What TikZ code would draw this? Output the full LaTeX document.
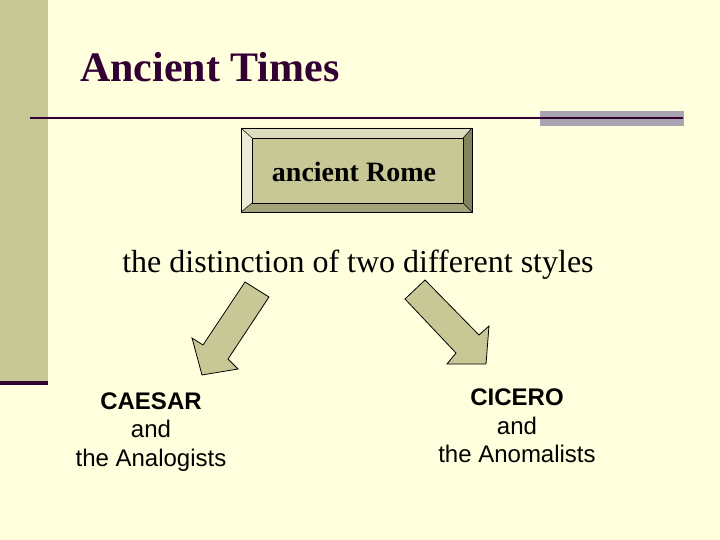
\documentclass[tikz,border=0pt]{standalone}
\usepackage{fontspec}
\setmainfont{Liberation Serif}
\newfontfamily\arialfont{Liberation Sans}
\definecolor{bgc}{HTML}{FFFFDD}
\definecolor{barc}{HTML}{C8C896}
\definecolor{darkp}{HTML}{330033}
\definecolor{greybar}{HTML}{A9A2B0}
\definecolor{face}{HTML}{C8C896}
\definecolor{bevtop}{HTML}{DCDCBE}
\definecolor{bevleft}{HTML}{ECECD6}
\definecolor{bevright}{HTML}{84845E}
\definecolor{bevbot}{HTML}{A4A47A}
\definecolor{arrowc}{HTML}{C8C896}
\begin{document}
\begin{tikzpicture}[x=1pt,y=-1pt,
  arrowshape/.style={fill=arrowc,draw=black,line width=0.8pt,line join=miter},
  sidetext/.style={font=\arialfont\fontsize{24}{28.5}\selectfont,align=center,text=black,inner sep=0pt}]
\useasboundingbox (0,0) rectangle (720,540);
\fill[bgc] (0,0) rectangle (720,540);
% left bar
\fill[barc] (0,0) rectangle (48,381);
\fill[darkp] (0,381) rectangle (48,385);
% title
\node[anchor=base west,inner sep=0pt,text=darkp,font=\fontsize{42}{50}\bfseries\selectfont] (title) at (80,82) {Ancient Times};
% rule
\fill[greybar] (540,111) rectangle (684,126);
\draw[darkp,line width=2pt] (30,118) coordinate (r1) -- (683,118) coordinate (r2);
% bevel box
\fill[bevtop] (241,128) -- (472,128) -- (463,138) -- (252,138) -- cycle;
\fill[bevright] (472,128) -- (472,212) -- (463,203) -- (463,138) -- cycle;
\fill[bevbot] (472,212) -- (241,212) -- (252,203) -- (463,203) -- cycle;
\fill[bevleft] (241,212) -- (241,128) -- (252,138) -- (252,203) -- cycle;
\fill[face] (252,138) rectangle (463,203);
\draw[black,line width=0.8pt] (241,128) rectangle (472,212);
\draw[black,line width=0.6pt] (252,138) rectangle (463,203);
\draw[black,line width=0.5pt] (241,128) -- (252,138) (472,128) -- (463,138) (472,212) -- (463,203) (241,212) -- (252,203);
\node[anchor=base,inner sep=0pt,font=\fontsize{28}{32}\bfseries\selectfont] (rome) at (354,182) {ancient Rome};
% subtitle
\node[anchor=base,inner sep=0pt,font=\fontsize{32}{38}\selectfont] (dist) at (358,272) {the distinction of two different styles};
% arrows
\draw[arrowshape] (245,282) -- (269,297) -- (228,359) -- (238,369) -- (202,375) -- (192,338) -- (203,345) -- cycle;
\draw[arrowshape] (405,299) -- (425,280) -- (479,335) -- (489,326) -- (486,364) -- (447,364) -- (456,353) -- cycle;
% texts
\node[sidetext] (caesar) at (151,432) {\textbf{CAESAR}\\and\\the Analogists};
\node[sidetext] (cicero) at (517,426) {\textbf{CICERO}\\and\\the Anomalists};
\end{tikzpicture}
\end{document}
